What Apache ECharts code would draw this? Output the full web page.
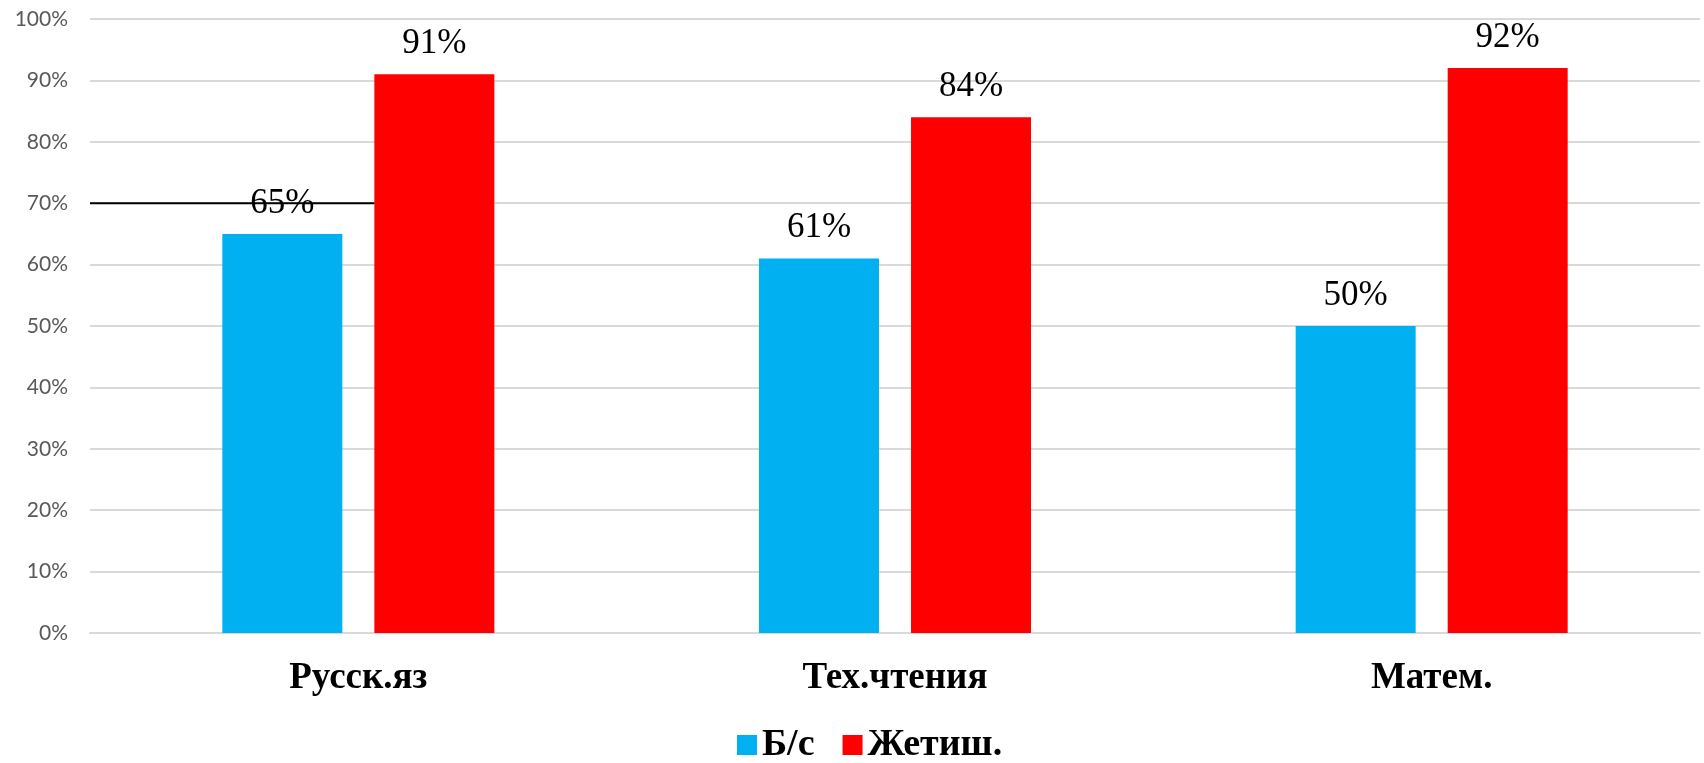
<html lang="ru">

<head>
  <meta charset="utf-8">
  <title>Б/с и Жетиш.</title>
  <style>
    html, body { margin: 0; padding: 0; background: #fff; }
    #chart { width: 1704px; height: 763px; }
  </style>
</head>

<body>
  <div id="chart"></div>
</body>

<script src="https://cdn.jsdelivr.net/npm/echarts@6/dist/echarts.min.js"></script>

<script>

  var subjects = ['Русск.яз', 'Тех.чтения', 'Матем.'];
  var bsValues = [65, 61, 50];
  var zhetValues = [91, 84, 92];
  var seriesNames = ['Б/с', 'Жетиш.'];
  var colors = ['#00b0f0', '#ff0000'];
  var markLevel = 70;

  var serif = '"Liberation Serif", "DejaVu Serif", serif';

  var plot = echarts.init(document.getElementById('chart'));

  var barLabel = {
    show: true,
    position: 'top',
    distance: 13,
    formatter: '{c}%',
    fontFamily: serif,
    fontSize: 35,
    color: '#000'
  };

  option = {
    animation: false,
    grid: {
      left: 90,
      right: 4,
      top: 19,
      bottom: 130
    },
    legend: {
      data: seriesNames,
      left: 737,
      top: 726,
      padding: 0,
      itemWidth: 20,
      itemHeight: 20,
      itemGap: 28,
      icon: 'rect',
      textStyle: {
        fontFamily: serif,
        fontWeight: 'bold',
        fontSize: 38,
        color: '#000'
      }
    },
    xAxis: {
      type: 'category',
      data: subjects,
      axisTick: { show: false },
      axisLine: { lineStyle: { color: '#d9d9d9', width: 2 } },
      axisLabel: {
        margin: 27,
        fontFamily: serif,
        fontWeight: 'bold',
        fontSize: 37,
        color: '#000'
      }
    },
    yAxis: {
      type: 'value',
      min: 0,
      max: 100,
      interval: 10,
      axisLine: { show: false },
      axisTick: { show: false },
      axisLabel: {
        formatter: '{value}%',
        margin: 22,
        fontFamily: 'Lato, "Noto Sans", sans-serif',
        fontSize: 21,
        color: '#595959'
      },
      splitLine: { lineStyle: { color: '#d9d9d9', width: 2 } }
    },
    series: [{
      name: seriesNames[0],
      type: 'bar',
      data: bsValues,
      barWidth: 120,
      barGap: '26.7%',
      itemStyle: { color: colors[0] },
      label: barLabel
    },
    {
      name: seriesNames[1],
      type: 'bar',
      data: zhetValues,
      barWidth: 120,
      barGap: '26.7%',
      itemStyle: { color: colors[1] },
      label: barLabel
    }]
  };
  plot.setOption(option);

  // black line at 70% drawn from the axis to the first red bar
  var yPix = plot.convertToPixel({ yAxisIndex: 0 }, markLevel);
  var redLayout = plot.getModel().getSeriesByIndex(1).getData().getItemLayout(0);
  plot.setOption({
    graphic: [{
      type: 'line',
      z: 100,
      shape: { x1: 90, y1: yPix, x2: redLayout.x, y2: yPix },
      style: { stroke: '#000', lineWidth: 2 }
    }]
  });

</script>

</html>
